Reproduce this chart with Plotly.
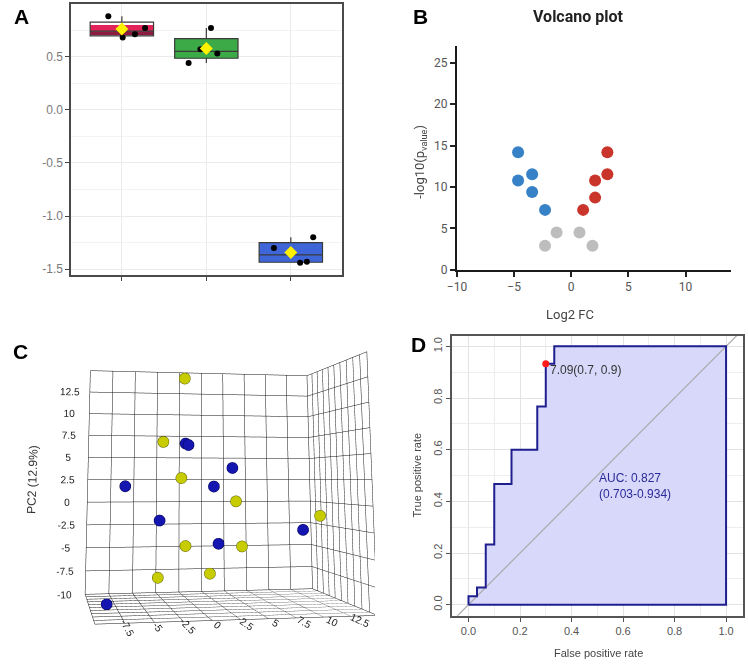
import numpy as np
import plotly.graph_objects as go

# ---------------- Panel A data ----------------
a_centers = [1, 2, 3]
a_red = [0.88, 0.68, 0.71, 0.77]
a_green = [0.44, 0.57, 0.77, 0.53]
a_blue = [-1.30, -1.44, -1.43, -1.20]
a_red_jit = [-0.16, 0.01, 0.155, 0.275]
a_green_jit = [-0.21, -0.07, 0.055, 0.13]
a_blue_jit = [-0.20, 0.11, 0.19, 0.265]
a_yticks = [-1.5, -1.0, -0.5, 0.0, 0.5]
a_yticklabels = ["-1.5", "-1.0", "-0.5", "0.0", "0.5"]
a_yminor = [-1.25, -0.75, -0.25, 0.25, 0.75]

# ---------------- Panel B data ----------------
b_up_x = [3.16, 3.16, 2.09, 2.09, 1.04]
b_up_y = [14.2, 11.55, 10.8, 8.72, 7.24]
b_down_x = [-4.65, -4.65, -3.42, -3.42, -2.29]
b_down_y = [14.2, 10.8, 11.55, 9.4, 7.24]
b_ns_x = [-1.28, -2.29, 0.72, 1.86]
b_ns_y = [4.52, 2.91, 4.52, 2.91]
b_xticks = [-10, -5, 0, 5, 10]
b_yticks = [0, 5, 10, 15, 20, 25]

# ---------------- Panel C data (PCA 3D) ----------------
c_yel_pc1 = [0.3, -2.1, 0.0, 5.8, 14.0, 0.4, 6.5, -2.5, 2.9]
c_yel_pc2 = [14.1, 6.75, 2.7, 0.1, -1.4, -4.8, -4.9, -8.2, -7.75]
c_yel_pc3 = [10.0, 9.5, 10.5, 9.0, 4.0, 10.0, 9.5, 10.5, 9.0]
c_blu_pc1 = [0.4, 0.6, 5.6, -6.15, 3.6, -2.5, 4.0, 13.6, -8.5]
c_blu_pc2 = [6.6, 6.4, 3.85, 1.8, 1.75, -1.95, -4.6, -3.2, -9.5]
c_blu_pc3 = [10.0, 9.0, 10.0, 9.5, 10.5, 9.0, 10.0, 10.5, -2.0]
c_x_ticks = [-10, -7.5, -5, -2.5, 0, 2.5, 5, 7.5, 10, 12.5, 15]
c_x_labels = ["", "-7.5", "-5", "-2.5", "0", "2.5", "5", "7.5", "10", "12.5", ""]
c_z_ticks = [-10, -7.5, -5, -2.5, 0, 2.5, 5, 7.5, 10, 12.5, 15]
c_z_labels = ["-10", "-7.5", "-5", "-2.5", "0", "2.5", "5", "7.5", "10", "12.5", ""]

# ---------------- Panel D data (ROC) ----------------
d_fpr = [0, 0, 0.033, 0.033, 0.067, 0.067, 0.1, 0.1, 0.167, 0.167, 0.267, 0.267,
         0.3, 0.3, 0.333, 0.333, 1.0, 1.0, 0]
d_tpr = [0, 0.033, 0.033, 0.067, 0.067, 0.233, 0.233, 0.467, 0.467, 0.6, 0.6, 0.767,
         0.767, 0.933, 0.933, 1.0, 1.0, 0, 0]
d_best = (0.3, 0.933)
d_diag = [-0.2, 1.2]
d_ticks = [0.0, 0.2, 0.4, 0.6, 0.8, 1.0]
d_ticklabels = ["0.0", "0.2", "0.4", "0.6", "0.8", "1.0"]
d_minor = [0.1, 0.3, 0.5, 0.7, 0.9]

fig = go.Figure()

# ======== Panel A ========
def quart(v):
    return np.percentile(v, [25, 50, 75])

groups = [(a_red, a_red_jit, "#E2245A", "#8E1B3F"),
          (a_green, a_green_jit, "#3DAA48", None),
          (a_blue, a_blue_jit, "#3E66D8", None)]
for c, (vals, jit, col, col2) in zip(a_centers, groups):
    q1, med, q3 = quart(vals)
    if col2 is not None:
        fig.add_trace(go.Bar(x=[c], y=[med - q1], base=[q1], width=0.75,
                             marker=dict(color=col2, line=dict(width=0)),
                             xaxis="x", yaxis="y", showlegend=False, hoverinfo="skip"))
        fig.add_trace(go.Bar(x=[c], y=[q3 - med], base=[med], width=0.75,
                             marker=dict(color=col, line=dict(width=0)),
                             xaxis="x", yaxis="y", showlegend=False, hoverinfo="skip"))
        fill = "rgba(0,0,0,0)"
    else:
        fill = col
    fig.add_trace(go.Box(y=vals, x0=c, width=0.75, fillcolor=fill,
                         line=dict(color="#3a3a3a", width=1.2), whiskerwidth=0,
                         boxpoints=False, quartilemethod="linear",
                         xaxis="x", yaxis="y", showlegend=False))
    fig.add_trace(go.Scatter(x=[c + j for j in jit], y=vals, mode="markers",
                             marker=dict(color="black", size=6),
                             xaxis="x", yaxis="y", showlegend=False))
    fig.add_trace(go.Scatter(x=[c], y=[float(np.mean(vals))], mode="markers",
                             marker=dict(color="#FFF200", size=10, symbol="diamond"),
                             xaxis="x", yaxis="y", showlegend=False))

# ======== Panel B ========
fig.add_trace(go.Scatter(x=b_ns_x, y=b_ns_y, mode="markers",
                         marker=dict(color="#BDBDBD", size=12),
                         xaxis="x2", yaxis="y2", showlegend=False))
fig.add_trace(go.Scatter(x=b_down_x, y=b_down_y, mode="markers",
                         marker=dict(color="#3781C6", size=12),
                         xaxis="x2", yaxis="y2", showlegend=False))
fig.add_trace(go.Scatter(x=b_up_x, y=b_up_y, mode="markers",
                         marker=dict(color="#C9352B", size=12),
                         xaxis="x2", yaxis="y2", showlegend=False))

# ======== Panel C ========
fig.add_trace(go.Scatter3d(x=c_yel_pc1, y=c_yel_pc3, z=c_yel_pc2, mode="markers",
                           marker=dict(color="#C6CC00", size=6.5,
                                       line=dict(color="#5d6000", width=1)),
                           scene="scene", showlegend=False))
fig.add_trace(go.Scatter3d(x=c_blu_pc1, y=c_blu_pc3, z=c_blu_pc2, mode="markers",
                           marker=dict(color="#1515B0", size=6.5,
                                       line=dict(color="#000050", width=1)),
                           scene="scene", showlegend=False))

# ======== Panel D ========
fig.add_trace(go.Scatter(x=d_fpr, y=d_tpr, mode="none", fill="toself",
                         fillcolor="#D8D8FA", xaxis="x3", yaxis="y3", showlegend=False))
fig.add_trace(go.Scatter(x=d_diag, y=d_diag, mode="lines",
                         line=dict(color="#AAAAAA", width=1.2),
                         xaxis="x3", yaxis="y3", showlegend=False))
fig.add_trace(go.Scatter(x=d_fpr, y=d_tpr, mode="lines",
                         line=dict(color="#1E1E8E", width=2),
                         xaxis="x3", yaxis="y3", showlegend=False))
fig.add_trace(go.Scatter(x=[d_best[0]], y=[d_best[1]], mode="markers",
                         marker=dict(color="#FF1A1A", size=7),
                         xaxis="x3", yaxis="y3", showlegend=False))

W, H = 748, 670
def px(x):
    return x / W
def py(y):
    return 1 - y / H

tickfontA = dict(family="Liberation Sans, Arial", size=12, color="#7a7a7a")
tickfontB = dict(family="Roboto, Arial", size=12, color="#555555")
tickfontD = dict(family="Liberation Sans, Arial", size=11, color="#555555")

axis3d_common = dict(showbackground=False, gridcolor="#111111", gridwidth=1,
                     showspikes=False, zeroline=False, showline=True,
                     linecolor="#111111", linewidth=1,
                     tickfont=dict(family="Liberation Sans, Arial", size=11, color="#222222"))

fig.update_layout(
    width=W, height=H, margin=dict(l=0, r=0, t=0, b=0),
    paper_bgcolor="white", plot_bgcolor="white", barmode="overlay",
    font=dict(family="Liberation Sans, Arial"),
    # Panel A
    xaxis=dict(domain=[px(62), px(336)], range=[0.4, 3.6], type="linear",
               tickvals=a_centers, ticktext=["", "", ""], ticks="outside", ticklen=4,
               tickcolor="#444", showgrid=True, gridcolor="#EBEBEB", gridwidth=1.2,
               zeroline=False, showline=True, mirror=True, linecolor="#4a4a4a",
               linewidth=1.5, anchor="y", fixedrange=True),
    yaxis=dict(domain=[py(278), py(4)], range=[-1.556, 0.996],
               tickvals=a_yticks, ticktext=a_yticklabels, ticks="outside", ticklen=4,
               tickcolor="#444", tickfont=tickfontA, showgrid=True, gridcolor="#EBEBEB",
               gridwidth=1.2, minor=dict(tickvals=a_yminor, showgrid=True,
                                         gridcolor="#F3F3F3", gridwidth=0.8, ticks=""),
               zeroline=False, showline=True, mirror=True, linecolor="#4a4a4a",
               linewidth=1.5, anchor="x"),
    # Panel B
    xaxis2=dict(domain=[px(453), px(731)], range=[-10, 14], tickvals=b_xticks,
                ticks="outside", ticklen=5, tickcolor="#222", tickwidth=1.5,
                tickfont=tickfontB, showgrid=False, zeroline=False, showline=True,
                linecolor="#1a1a1a", linewidth=2, anchor="y2"),
    yaxis2=dict(domain=[py(272.7), py(46.7)], range=[0, 27], tickvals=b_yticks,
                ticks="outside", ticklen=5, tickcolor="#222", tickwidth=1.5,
                tickfont=tickfontB, showgrid=False, zeroline=False, showline=True,
                linecolor="#1a1a1a", linewidth=2, anchor="x2"),
    # Panel D
    xaxis3=dict(domain=[px(448), px(743)], range=[-0.064, 1.066], tickvals=d_ticks,
                ticktext=d_ticklabels, ticks="outside", ticklen=4, tickcolor="#555",
                tickfont=tickfontD, showgrid=True, gridcolor="#E3E3E3", gridwidth=1,
                minor=dict(tickvals=d_minor, showgrid=True, gridcolor="#EDEDED", ticks=""),
                zeroline=False, showline=True, mirror=True, linecolor="#555",
                linewidth=1.5, anchor="y3"),
    yaxis3=dict(domain=[py(622.3), py(339.3)], range=[-0.043, 1.041], tickvals=d_ticks,
                ticktext=d_ticklabels, ticks="outside", ticklen=4, tickcolor="#555",
                tickfont=tickfontD, tickangle=-90, showgrid=True, gridcolor="#E3E3E3",
                gridwidth=1, minor=dict(tickvals=d_minor, showgrid=True,
                                        gridcolor="#EDEDED", ticks=""),
                zeroline=False, showline=True, mirror=True, linecolor="#555",
                linewidth=1.5, anchor="x3"),
    # Panel C (tall transparent viewport so the projection centre sits near the horizon)
    scene=dict(
        domain=dict(x=[0, px(370)], y=[0, 1]),
        aspectmode="manual", aspectratio=dict(x=1, y=0.72, z=0.95),
        xaxis=dict(range=[-10, 15], tickvals=c_x_ticks, ticktext=c_x_labels,
                   title=dict(text=""), **axis3d_common),
        yaxis=dict(range=[-12.5, 12.5], dtick=2.5, showticklabels=False,
                   title=dict(text=""), **axis3d_common),
        zaxis=dict(range=[-10, 15], tickvals=c_z_ticks, ticktext=c_z_labels,
                   title=dict(text="PC2 (12.9%)", font=dict(size=12, color="#333")),
                   **axis3d_common),
        camera=dict(eye=dict(x=-0.672, y=-3.183, z=0.0),
                    center=dict(x=-0.068, y=0.204, z=0.637),
                    up=dict(x=0, y=0, z=1),
                    projection=dict(type="perspective")),
        bgcolor="rgba(0,0,0,0)",
    ),
)

ann = []
for lab, x, y in [("A", 12, 17), ("B", 416, 17), ("C", 11, 355), ("D", 414, 348)]:
    ann.append(dict(text="<b>%s</b>" % lab, x=px(x), y=py(y), xref="paper", yref="paper",
                    showarrow=False, xanchor="center", yanchor="middle",
                    font=dict(family="Liberation Sans, Arial", size=21, color="black")))
ann.append(dict(text="<b>Volcano plot</b>", x=px(576), y=py(17), xref="paper", yref="paper",
                showarrow=False, xanchor="center", yanchor="middle",
                font=dict(family="Roboto, Arial", size=16, color="#222")))
ann.append(dict(text="-log10(p<sub>value</sub>)", x=px(416), y=py(163), xref="paper",
                yref="paper", showarrow=False, textangle=-90, xanchor="center",
                yanchor="middle", font=dict(family="Roboto, Arial", size=13, color="#444")))
ann.append(dict(text="Log2 FC", x=px(568), y=py(318), xref="paper", yref="paper",
                showarrow=False, xanchor="center", yanchor="middle",
                font=dict(family="Roboto, Arial", size=13, color="#444")))
ann.append(dict(text="True positive rate", x=px(413), y=py(480), xref="paper",
                yref="paper", showarrow=False, textangle=-90, xanchor="center",
                yanchor="middle",
                font=dict(family="Liberation Sans, Arial", size=11, color="#444")))
ann.append(dict(text="False positive rate", x=px(596), y=py(660), xref="paper",
                yref="paper", showarrow=False, xanchor="center", yanchor="middle",
                font=dict(family="Liberation Sans, Arial", size=11, color="#444")))
ann.append(dict(text="7.09(0.7, 0.9)", x=d_best[0], y=d_best[1], xref="x3", yref="y3",
                showarrow=False, xanchor="left", yanchor="top", xshift=2, yshift=3,
                font=dict(family="Liberation Sans, Arial", size=12, color="#333")))
ann.append(dict(text="AUC: 0.827<br>(0.703-0.934)", x=0.5, y=0.46, xref="x3", yref="y3",
                showarrow=False, xanchor="left", yanchor="middle", align="left",
                font=dict(family="Liberation Sans, Arial", size=12, color="#2A2A9A")))
fig.update_layout(annotations=ann)

fig.write_html("out.html", config={"displayModeBar": False},
               post_script="document.body.style.margin='0px';document.body.style.padding='0px';")
